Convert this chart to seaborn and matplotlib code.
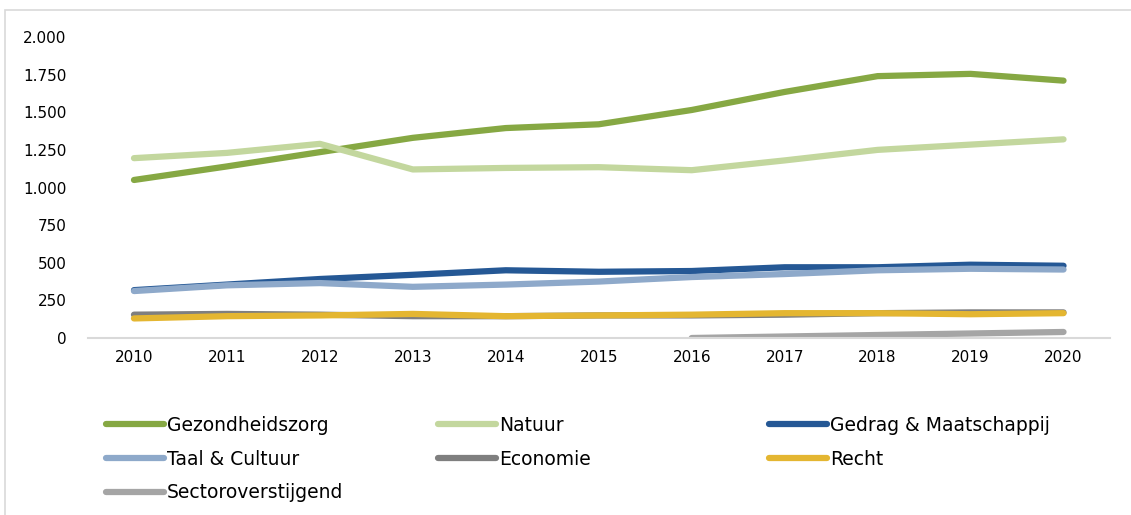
import pandas as pd
import matplotlib.pyplot as plt
import seaborn as sns
from matplotlib.patches import Rectangle
from matplotlib.lines import Line2D

years = [2010, 2011, 2012, 2013, 2014, 2015, 2016, 2017, 2018, 2019, 2020]

gezondheidszorg = [1050, 1140, 1235, 1330, 1395, 1420, 1515, 1635, 1740, 1755, 1710]
natuur = [1195, 1230, 1290, 1120, 1130, 1135, 1115, 1180, 1250, 1285, 1320]
gedrag = [318, 355, 392, 420, 450, 440, 445, 470, 470, 487, 480]
taal = [312, 350, 365, 340, 355, 375, 405, 425, 450, 460, 455]
economie = [155, 160, 155, 145, 145, 150, 150, 155, 165, 170, 170]
recht = [130, 145, 150, 160, 145, 150, 155, 165, 165, 158, 165]
sector = [None, None, None, None, None, None, 0, 10, 20, 30, 40]

series = {
    'Gezondheidszorg': gezondheidszorg,
    'Natuur': natuur,
    'Gedrag & Maatschappij': gedrag,
    'Taal & Cultuur': taal,
    'Economie': economie,
    'Recht': recht,
    'Sectoroverstijgend': sector,
}
colors = {
    'Gezondheidszorg': '#86A843',
    'Natuur': '#C3D79E',
    'Gedrag & Maatschappij': '#255895',
    'Taal & Cultuur': '#8EA9CA',
    'Economie': '#7F7F7F',
    'Recht': '#E4B631',
    'Sectoroverstijgend': '#A5A5A5',
}

rows = []
for name, vals in series.items():
    for y, v in zip(years, vals):
        rows.append({'jaar': y, 'sector': name, 'aantal': v})
df = pd.DataFrame(rows).dropna()

sns.set_style('white')
plt.rcParams['font.family'] = ['DejaVu Sans']
plt.rcParams['text.color'] = 'black'

fig = plt.figure(figsize=(11.31, 5.15), dpi=100)
ax = fig.add_axes([87.5 / 1131, 1 - 338 / 515, (1110 - 87.5) / 1131, (338 - 37) / 515])

# light frame around the chart
fig.patches.append(Rectangle((5 / 1131, -0.05), 1.1, 1 - 10 / 515 + 0.05,
                             transform=fig.transFigure, fill=False,
                             edgecolor='#D9D9D9', lw=1.2))

for name in series:
    sns.lineplot(data=df[df['sector'] == name], x='jaar', y='aantal', ax=ax,
                 color=colors[name], linewidth=4.5, legend=False,
                 solid_capstyle='round', solid_joinstyle='round')

ax.set_xlim(2009.5, 2020.5)
ax.set_ylim(0, 2000)
ax.set_xticks(years)
ax.set_xticklabels([str(y) for y in years])
yt = list(range(0, 2001, 250))
ax.set_yticks(yt)
ax.set_yticklabels([f'{v:,}'.replace(',', '.') for v in yt])
ax.tick_params(axis='both', length=0, labelsize=11, colors='black')
ax.tick_params(axis='y', pad=15)
ax.tick_params(axis='x', pad=9)
ax.set_xlabel('')
ax.set_ylabel('')
for s in ['top', 'right', 'left']:
    ax.spines[s].set_visible(False)
ax.spines['bottom'].set_color('#D9D9D9')
ax.spines['bottom'].set_linewidth(1.5)
ax.grid(False)

# legend laid out as a fixed three-column grid
cols = [['Gezondheidszorg', 'Taal & Cultuur', 'Sectoroverstijgend'],
        ['Natuur', 'Economie'],
        ['Gedrag & Maatschappij', 'Recht']]
xs = [106, 438, 769]
for names, x0 in zip(cols, xs):
    handles = [Line2D([0], [0], color=colors[n], lw=4.5, solid_capstyle='round') for n in names]
    leg = fig.legend(handles, names, loc='upper left', bbox_to_anchor=(x0 / 1131, 1 - 416 / 515),
                     frameon=False, fontsize=13.5, handlelength=3.1, handletextpad=0.15,
                     labelspacing=0.78, borderpad=0, borderaxespad=0, labelcolor='black')

fig.savefig('out.png', dpi=100)
